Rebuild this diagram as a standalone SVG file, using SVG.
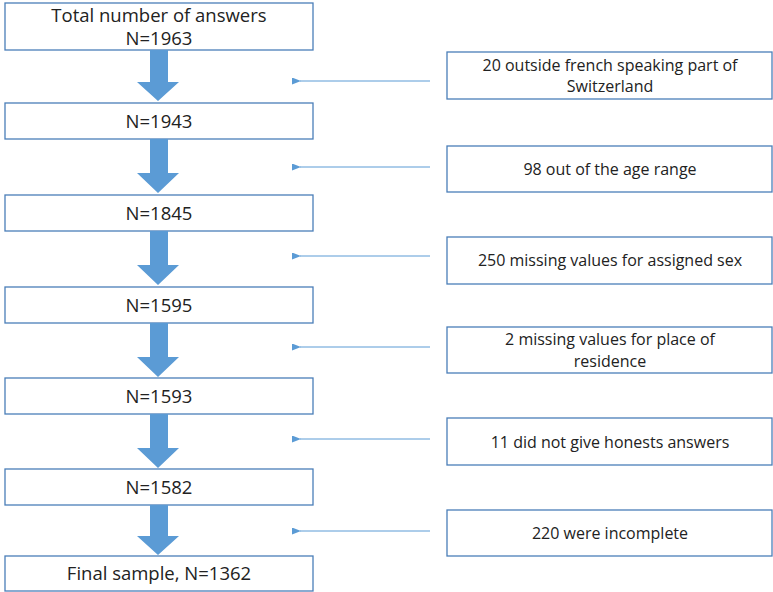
<svg xmlns="http://www.w3.org/2000/svg" width="773" height="592" viewBox="0 0 773 592">
<defs>
<style>
.b{fill:#fff;stroke:#4a7eb8;stroke-width:1.3}
.t{font-family:"Open Sans","Liberation Sans",sans-serif;fill:#222;text-anchor:middle}
.l{font-size:18.5px}.r{font-size:16px}
.ba{fill:#5b9bd5}
.c{stroke:#5b9bd5;stroke-width:1;fill:none}
</style>
<marker id="ah" markerWidth="9" markerHeight="7" refX="1" refY="3.5" orient="auto" markerUnits="userSpaceOnUse"><path d="M9,0 L0,3.5 L9,7 Z" fill="#5b9bd5"/></marker>
</defs>
<rect width="773" height="592" fill="#fff"/>
<g id="n0"><rect class="b" x="5" y="3" width="308" height="47"/><text class="t l" x="159" y="22">Total number of answers</text><text class="t l" x="159" y="45">N=1963</text></g>
<g id="n1"><rect class="b" x="5" y="103" width="308" height="36"/><text class="t l" x="159" y="128">N=1943</text></g>
<g id="n2"><rect class="b" x="5" y="195" width="308" height="36"/><text class="t l" x="159" y="220">N=1845</text></g>
<g id="n3"><rect class="b" x="5" y="287" width="308" height="36"/><text class="t l" x="159" y="312">N=1595</text></g>
<g id="n4"><rect class="b" x="5" y="378" width="308" height="36"/><text class="t l" x="159" y="403">N=1593</text></g>
<g id="n5"><rect class="b" x="5" y="469" width="308" height="36"/><text class="t l" x="159" y="494">N=1582</text></g>
<g id="n6"><rect class="b" x="5" y="556" width="308" height="35"/><text class="t l" x="159" y="580">Final sample, N=1362</text></g>
<g id="e0"><rect class="b" x="447" y="52" width="325" height="47"/><text class="t r" x="610" y="71">20 outside french speaking part of</text><text class="t r" x="610" y="92">Switzerland</text></g>
<g id="e1"><rect class="b" x="447" y="146" width="325" height="46"/><text class="t r" x="610" y="175">98 out of the age range</text></g>
<g id="e2"><rect class="b" x="447" y="237" width="325" height="47"/><text class="t r" x="610" y="266">250 missing values for assigned sex</text></g>
<g id="e3"><rect class="b" x="447" y="327" width="325" height="46"/><text class="t r" x="610" y="345">2 missing values for place of</text><text class="t r" x="610" y="367">residence</text></g>
<g id="e4"><rect class="b" x="447" y="418" width="325" height="47"/><text class="t r" x="610" y="448">11 did not give honests answers</text></g>
<g id="e5"><rect class="b" x="447" y="510" width="325" height="46"/><text class="t r" x="610" y="539">220 were incomplete</text></g>
<g id="connectors">
<path class="ba" d="M150,50 H168 V82 H179 L158,101 L137,82 H150 Z"/>
<path class="ba" d="M150,139 H168 V173 H179 L158,193 L137,173 H150 Z"/>
<path class="ba" d="M150,231 H168 V265 H179 L158,285 L137,265 H150 Z"/>
<path class="ba" d="M150,323 H168 V357 H179 L158,377 L137,357 H150 Z"/>
<path class="ba" d="M150,414 H168 V448 H179 L158,468 L137,448 H150 Z"/>
<path class="ba" d="M150,505 H168 V536 H179 L158,555 L137,536 H150 Z"/>
<line class="c" x1="430" y1="81" x2="300" y2="81" marker-end="url(#ah)"/>
<line class="c" x1="430" y1="167" x2="300" y2="167" marker-end="url(#ah)"/>
<line class="c" x1="430" y1="256" x2="300" y2="256" marker-end="url(#ah)"/>
<line class="c" x1="430" y1="347" x2="300" y2="347" marker-end="url(#ah)"/>
<line class="c" x1="430" y1="439" x2="300" y2="439" marker-end="url(#ah)"/>
<line class="c" x1="430" y1="531" x2="300" y2="531" marker-end="url(#ah)"/>
</g>
</svg>
